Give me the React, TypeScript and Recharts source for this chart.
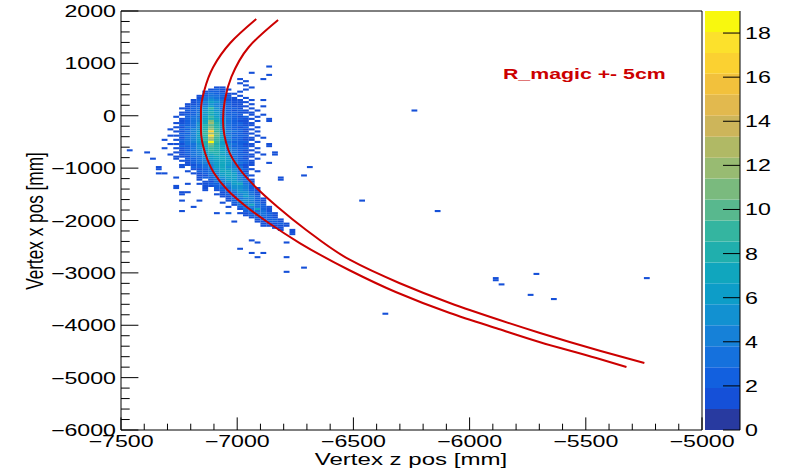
import React from "react";
import { ComposedChart, XAxis, YAxis, ReferenceArea, Line, BarChart, Bar } from "recharts";

// histogram axes and binning, mm
const Z_RANGE: [number, number] = [-7500, -5000];
const X_RANGE: [number, number] = [-6000, 2000];
const BIN_Z = 25;
const BIN_X = 40;
// first histogram row (counted down from x = 2000)
const FIRST_ROW = 26;

// one string per x row, one char per z bin (groups of 10 split by |)
// . = empty, 1-9, a = 10 ... j = 19
const heatRows: string[] = [
    "..........|..........|.....1",
    "",
    "",
    "..........|..........|..1",
    "..........|..........|.....1",
    "",
    "..........|..........|1...1",
    "..........|..........|.1",
    "..........|..........|1",
    "..........|..........|.1",
    "..........|......11..|..1",
    "..........|.....1211.|.1",
    "..........|....1221..|1",
    "..........|....232211",
    "..........|...123321.|1",
    "..........|...1343221|.1",
    "..........|..12354311|1.1.1",
    "..........|..12465321|11",
    "..........|.112354321|1.1",
    "..........|.122464321|11..1",
    "..........|1123595322|1.1",
    "..........|.223575321|21.1",
    "..........|1123686422|111",
    "..........|1224576322|2.1.1",
    ".........1|.233696432|12.1",
    "..........|1234687432|211..1",
    "..........|12347b7532|11.1.1",
    ".........1|12357c8532|211",
    "..........|22358a8532|211",
    ".........1|13358b8632|12.1",
    "........1.|22458c9532|211",
    ".........1|13469h9643|21.1",
    "..........|22469ca632|211",
    "........11|23469ia743|22.1",
    "..........|13468d9642|211.1",
    ".......1.1|23469c9743|211",
    "..........|23468j9632|22.1",
    "........11|13358b8643|211..1",
    "..........|22357a8642|211..1",
    ".......1.1|1235798743|22.1",
    ".1........|1234698643|211",
    "....1....1|1234688753|21.1..1",
    "........1.|1234578653|221.1.1",
    ".........1|1133567753|211",
    ".....1...1|.223467763|21.1",
    "..........|1123456764|221",
    "..........|.123456764|321..1",
    "..........|1112346764|211",
    "......1...|1.22346754|31",
    "......1...|..11235765|321",
    "..........|.1.2235775|31.1",
    "......11..|..11234676|32",
    "..........|...1134676|421",
    ".........1|...1223566|42.....1",
    "..........|...1.23466|431....1",
    "..........|....113456|531",
    "..........|.1.1122346|732",
    ".........1|....112345|542",
    ".........1|....1.2235|5421",
    "..........|....1.1234|5421",
    "..........|11.....123|5531",
    "..........|1.....1123|4531",
    "..........|.......112|4642",
    "..........|........12|34421",
    "..........|1..1....12|45421",
    "..........|.......1.2|34431",
    "..........|.........1|34732",
    "..........|..1.....1.|234321",
    "..........|..........|133721",
    "..........|1.........|.23331",
    "..........|......1.2.|1123321",
    "..........|..........|.122321",
    "..........|..........|..12221",
    "..........|..........|...12221",
    "..........|.........1|...11221",
    "..........|..........|....11121",
    "..........|..........|....11111",
    "..........|..........|......11",
    "..........|..........|.......1.1",
    "..........|..........|.........1",
    "..........|..........|.........1",
    "",
    "",
    "..........|..........|..1",
    "..........|..........|...1....1",
    "",
    "",
    "..........|..........|1",
    "",
    "..........|..........|..1.1",
    "",
    "..........|..........|...1....1",
    "",
    "",
    "",
    "",
    "",
    "",
    "..........|..........|........1",
];

// isolated single entries, [z, x]
const strayHits: [number, number][] = [
    [-6231, 110],
    [-6691, -979],
    [-6708, -1131],
    [-6472, -1628],
    [-6149, -1800],
    [-6710, -2907],
    [-5891, -3098],
    [-5891, -3136],
    [-5869, -3212],
    [-5710, -3002],
    [-5749, -3422],
    [-5628, -3499],
    [-5232, -3098],
    [-6368, -3785],
];

// R_magic - 5cm and + 5cm, [z, x]
const outerCurve: [number, number][] = [
    [-6918, 1847], [-7030, 1389], [-7103, 931], [-7141, 492], [-7156, 110],
    [-7156, -272], [-7138, -711], [-7100, -1093], [-7042, -1418], [-6959, -1742],
    [-6864, -2048], [-6731, -2430], [-6519, -2945], [-6318, -3365], [-6085, -3766],
    [-5875, -4072], [-5700, -4320], [-5455, -4625], [-5325, -4797],
];
const innerCurve: [number, number][] = [
    [-6824, 1828], [-6950, 1313], [-7025, 740], [-7053, 301], [-7061, -81],
    [-7038, -654], [-6993, -998], [-6921, -1360], [-6826, -1742], [-6703, -2181],
    [-6514, -2754], [-6303, -3193], [-6085, -3575], [-5871, -3900], [-5697, -4148],
    [-5436, -4492], [-5248, -4721],
];

const xLabels = [-7500, -7000, -6500, -6000, -5500, -5000];
const yLabels = [-6000, -5000, -4000, -3000, -2000, -1000, 0, 1000, 2000];

// colour contours of the palette axis
const paletteLevels = [
    0, 0.95, 1.9, 2.85, 3.8, 4.75, 5.7, 6.65, 7.6, 8.55, 9.5,
    10.45, 11.4, 12.35, 13.3, 14.25, 15.2, 16.15, 17.1, 18.05, 19,
];
const paletteColors = [
    "#283aa0", "#1550d8", "#1260df", "#1571dd", "#1681d8",
    "#1291d1", "#0d9dc8", "#10a6be", "#20afad", "#34b5a0",
    "#58b88e", "#7aba7e", "#98bb72", "#b0b965", "#cdb55a",
    "#e2b94e", "#f2c13c", "#fbd131", "#fce12c", "#f8f80e",
];
const paletteLabels = [0, 2, 4, 6, 8, 10, 12, 14, 16, 18];

const FONT = "'Liberation Sans', Arial, Helvetica, sans-serif";
const STRETCH = 1.45;
const RED = "#cc0000";

const decode = (ch: string) => {
    if (ch >= "1" && ch <= "9") return ch.charCodeAt(0) - 48;
    if (ch >= "a" && ch <= "j") return ch.charCodeAt(0) - 87;
    return 0;
};

const colorFor = (n: number) => {
    let i = 0;
    while (i < paletteColors.length - 1 && n >= paletteLevels[i + 1]) i++;
    return paletteColors[i];
};

type Bin = { z0: number; z1: number; x0: number; x1: number; n: number };

const buildBins = (): Bin[] => {
    const counts = new Map<string, number>();
    const add = (k: number, j: number, n: number) => {
        const key = `${k},${j}`;
        counts.set(key, (counts.get(key) ?? 0) + n);
    };
    heatRows.forEach((row, i) => {
        const cells = row.replace(/\|/g, "");
        for (let k = 0; k < cells.length; k++) {
            const n = decode(cells[k]);
            if (n) add(k, FIRST_ROW + i, n);
        }
    });
    strayHits.forEach(([z, x]) => {
        add(Math.floor((z - Z_RANGE[0]) / BIN_Z), Math.floor((X_RANGE[1] - x) / BIN_X), 1);
    });
    return [...counts].map(([key, n]) => {
        const [k, j] = key.split(",").map(Number);
        return {
            z0: Z_RANGE[0] + k * BIN_Z,
            z1: Z_RANGE[0] + (k + 1) * BIN_Z,
            x0: X_RANGE[1] - (j + 1) * BIN_X,
            x1: X_RANGE[1] - j * BIN_X,
            n,
        };
    });
};

const bins = buildBins();

const xTicks: number[] = [];
for (let v = Z_RANGE[0]; v <= Z_RANGE[1]; v += 100) xTicks.push(v);
const yTicks: number[] = [];
for (let v = X_RANGE[0]; v <= X_RANGE[1]; v += 200) yTicks.push(v);

const fmt = (v: number) => (v < 0 ? `\u2212${Math.abs(v)}` : `${v}`);

const XTick = ({ x, y, payload }: any) => {
    const major = xLabels.includes(payload.value);
    return (
        <g>
            <line x1={x} x2={x} y1={y} y2={y - (major ? 12.6 : 6.3)} stroke="#000" />
            {major && (
                <text
                    transform={`translate(${x},${y + 17}) scale(${STRETCH},1)`}
                    textAnchor="middle"
                    fontSize={16}
                    fontFamily={FONT}
                    fill="#000"
                >
                    {fmt(payload.value)}
                </text>
            )}
        </g>
    );
};

const YTick = ({ x, y, payload }: any) => {
    const major = yLabels.includes(payload.value);
    return (
        <g>
            <line x1={x} x2={x + (major ? 17.4 : 8.7)} y1={y} y2={y} stroke="#000" />
            {major && (
                <text
                    transform={`translate(${x - 5},${y + 6}) scale(${STRETCH},1)`}
                    textAnchor="end"
                    fontSize={16}
                    fontFamily={FONT}
                    fill="#000"
                >
                    {fmt(payload.value)}
                </text>
            )}
        </g>
    );
};

const PaletteTick = ({ x, y, payload }: any) => (
    <g>
        <line x1={x} x2={x - 17} y1={y} y2={y} stroke="#000" />
        <text
            transform={`translate(${x + 5},${y + 6}) scale(${STRETCH},1)`}
            textAnchor="start"
            fontSize={16}
            fontFamily={FONT}
            fill="#000"
        >
            {payload.value}
        </text>
    </g>
);

const paletteRow: Record<string, number | string> = { name: "palette" };
paletteColors.forEach((_, i) => {
    paletteRow[`b${i}`] = paletteLevels[i + 1] - paletteLevels[i];
});

const App = () => {
    return (
        <div style={{ position: "absolute", left: 0, top: 0, width: 790, height: 470, background: "#fff" }}>
            <ComposedChart width={790} height={470} margin={{ top: 11, right: 88, bottom: 0, left: 0 }}>
                <XAxis
                    dataKey="z"
                    type="number"
                    domain={Z_RANGE}
                    ticks={xTicks}
                    interval={0}
                    height={40}
                    tick={(p: any) => <XTick {...p} />}
                    tickLine={false}
                    axisLine={false}
                    tickSize={0}
                    tickMargin={0}
                    allowDataOverflow
                />
                <YAxis
                    dataKey="x"
                    type="number"
                    domain={X_RANGE}
                    ticks={yTicks}
                    interval={0}
                    width={121}
                    tick={(p: any) => <YTick {...p} />}
                    tickLine={false}
                    axisLine={false}
                    tickSize={0}
                    tickMargin={0}
                    allowDataOverflow
                />
                {bins.map((b, i) => (
                    <ReferenceArea
                        key={i}
                        x1={b.z0}
                        x2={b.z1}
                        y1={b.x0}
                        y2={b.x1}
                        fill={colorFor(b.n)}
                        fillOpacity={1}
                        stroke="none"
                    />
                ))}
                <Line
                    data={outerCurve.map(([z, x]) => ({ z, x }))}
                    dataKey="x"
                    type="monotoneY"
                    stroke={RED}
                    strokeWidth={2}
                    dot={false}
                    isAnimationActive={false}
                />
                <Line
                    data={innerCurve.map(([z, x]) => ({ z, x }))}
                    dataKey="x"
                    type="monotoneY"
                    stroke={RED}
                    strokeWidth={2}
                    dot={false}
                    isAnimationActive={false}
                />
                <ReferenceArea
                    x1={Z_RANGE[0]}
                    x2={Z_RANGE[1]}
                    y1={X_RANGE[0]}
                    y2={X_RANGE[1]}
                    fill="none"
                    stroke="#000"
                    strokeWidth={1}
                />
            </ComposedChart>

            <div style={{ position: "absolute", left: 705, top: 0 }}>
                <BarChart
                    width={85}
                    height={470}
                    data={[paletteRow]}
                    margin={{ top: 11, right: 0, bottom: 40, left: 0 }}
                    barCategoryGap={0}
                >
                    <XAxis dataKey="name" hide />
                    <YAxis
                        orientation="right"
                        type="number"
                        domain={[0, 19]}
                        ticks={paletteLabels}
                        interval={0}
                        width={50}
                        tick={(p: any) => <PaletteTick {...p} />}
                        tickLine={false}
                        tickSize={0}
                        tickMargin={0}
                        axisLine={{ stroke: "#000" }}
                        allowDataOverflow
                    />
                    {paletteColors.map((c, i) => (
                        <Bar key={i} dataKey={`b${i}`} stackId="pal" fill={c} isAnimationActive={false} />
                    ))}
                </BarChart>
            </div>

            <svg width={790} height={470} style={{ position: "absolute", left: 0, top: 0, pointerEvents: "none" }}>
                <text
                    transform={`translate(411,465) scale(1.4,1)`}
                    textAnchor="middle"
                    fontSize={17.2}
                    fontFamily={FONT}
                    fill="#000"
                >
                    Vertex z pos [mm]
                </text>
                <text
                    transform={`translate(43,221) scale(1.4,1) rotate(-90)`}
                    textAnchor="middle"
                    fontSize={17.2}
                    fontFamily={FONT}
                    fill="#000"
                >
                    Vertex x pos [mm]
                </text>
                <text
                    transform={`translate(503,79) scale(1.42,1)`}
                    textAnchor="start"
                    fontSize={15}
                    fontWeight="bold"
                    fontFamily={FONT}
                    fill={RED}
                >
                    R_magic +- 5cm
                </text>
            </svg>
        </div>
    );
};

export default App;
